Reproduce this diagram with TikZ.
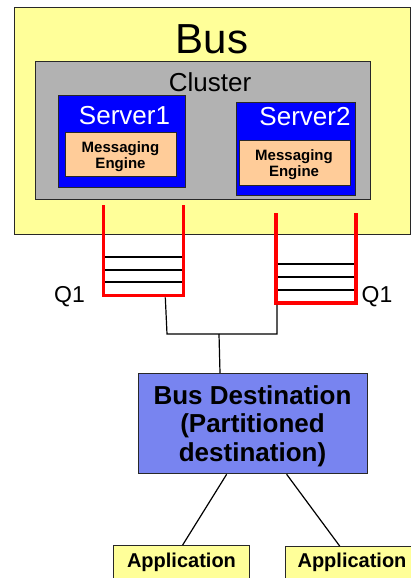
\documentclass[tikz,border=0pt]{standalone}
\usepackage{fontspec}
\setmainfont{Liberation Sans}
\usetikzlibrary{calc}
\definecolor{busyellow}{RGB}{255,255,153}
\definecolor{clustergray}{RGB}{178,178,178}
\definecolor{serverblue}{RGB}{0,0,255}
\definecolor{enginepeach}{RGB}{255,204,153}
\definecolor{destblue}{RGB}{120,132,240}
\definecolor{edgegray}{RGB}{40,40,40}
\begin{document}
\begin{tikzpicture}[x=1pt,y=-1pt,
  box/.style={draw=edgegray, line width=1.3pt, inner sep=0pt, anchor=north west},
  lbl/.style={inner sep=0pt, anchor=base},
  mlbl/.style={inner sep=0pt, align=center, font=\bfseries},
  queue/.style={draw=red, line width=3.6pt, line join=miter},
  slot/.style={draw=black, line width=1.1pt},
  wire/.style={draw=black, line width=1.2pt}]
\useasboundingbox (0,0) rectangle (411,578);
\clip (0,0) rectangle (411,578);
% Bus
\node[box, fill=busyellow, minimum width=396pt, minimum height=227pt] (bus) at (14,7) {};
\node[lbl, font=\fontsize{42}{42}\selectfont] (bustxt) at (212,53) {Bus};
% Cluster
\node[box, fill=clustergray, minimum width=335pt, minimum height=138pt] (cluster) at (35,61) {};
\node[lbl, font=\fontsize{26}{26}\selectfont] (clustertxt) at (210,92) {Cluster};
% Server1
\node[box, fill=serverblue, minimum width=127pt, minimum height=92pt] (srv1) at (58,95) {};
\node[lbl, text=white, font=\fontsize{26}{26}\selectfont] (srv1txt) at (124.5,124) {Server1};
\node[box, fill=enginepeach, minimum width=111pt, minimum height=44pt] (me1) at (65,132) {};
\node[mlbl, font=\bfseries\fontsize{15}{16}\selectfont] (me1txt) at (120.5,157) {Messaging\\Engine};
% Server2
\node[box, fill=serverblue, minimum width=119pt, minimum height=93pt] (srv2) at (236,102) {};
\node[lbl, text=white, font=\fontsize{26}{26}\selectfont] (srv2txt) at (305,125) {Server2};
\node[box, fill=enginepeach, minimum width=111pt, minimum height=45pt] (me2) at (239,140) {};
\node[mlbl, font=\bfseries\fontsize{15}{16}\selectfont] (me2txt) at (294,165) {Messaging\\Engine};
% Queues
\draw[queue] (103.5,205) -- (103.5,295.5) -- (183.3,295.5) -- (183.3,205);
\draw[slot] (105,257) -- (181.5,257) (105,270) -- (181.5,270) (105,282) -- (181.5,282);
\draw[queue] (276,213) -- (276,303) -- (356,303) -- (356,213);
\draw[slot] (278,264) -- (354,264) (278,277) -- (354,277) (278,290) -- (354,290);
\node[lbl, font=\fontsize{23}{23}\selectfont] (q1a) at (69.5,302) {Q1};
\node[lbl, font=\fontsize{23}{23}\selectfont] (q1b) at (377,302) {Q1};
\coordinate (qa) at (165.3,297.3);
\coordinate (qb) at (277,304.8);
\coordinate (ja) at (167,334);
\coordinate (jb) at (277,334);
\coordinate (jm) at (219,334);
% Destination
\node[box, fill=destblue, minimum width=229pt, minimum height=100pt] (dest) at (138,373) {};
\node[mlbl, font=\bfseries\fontsize{26}{28.5}\selectfont] (desttxt) at (252.5,426) {Bus Destination\\(Partitioned\\destination)};
% Applications
\node[box, fill=busyellow, minimum width=136pt, minimum height=45pt] (app1) at (113,545) {};
\node[lbl, font=\bfseries\fontsize{20}{20}\selectfont] (app1txt) at (181.5,567) {Application};
\node[box, fill=busyellow, minimum width=136pt, minimum height=45pt] (app2) at (285,546) {};
\node[lbl, font=\bfseries\fontsize{20}{20}\selectfont] (app2txt) at (352,567) {Application};
% Wires
\draw[wire] (qa) -- (ja) -- (jb) -- (qb);
\draw[wire] (jm) -- ([xshift=1pt]jm |- dest.north);
\draw[wire] ([xshift=-26.5pt]dest.south) -- ([xshift=1pt]app1.north);
\draw[wire] ([xshift=33.5pt]dest.south) -- ([xshift=-14pt]app2.north);
\end{tikzpicture}
\end{document}
